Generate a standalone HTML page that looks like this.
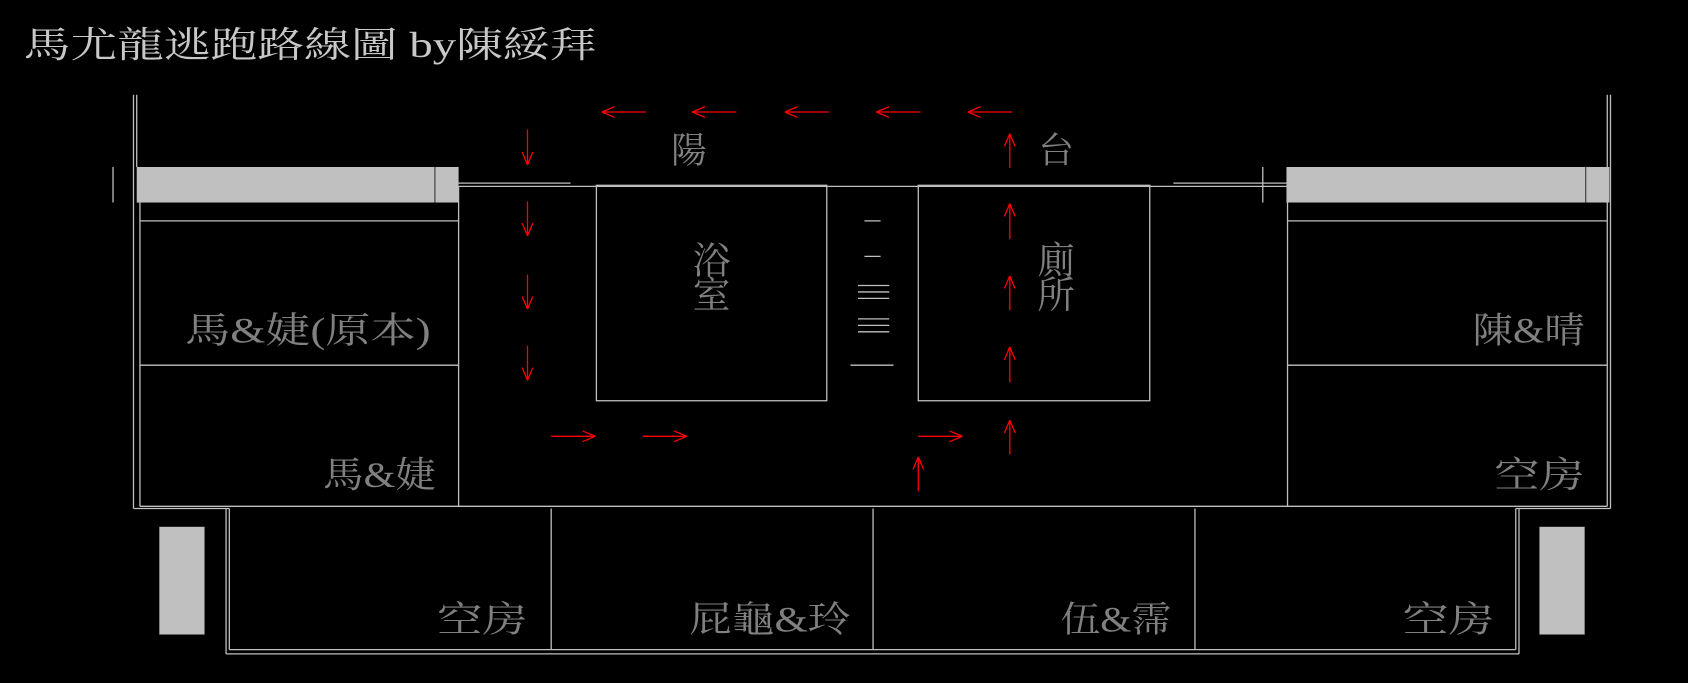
<!DOCTYPE html>
<html><head><meta charset="utf-8"><style>
html,body{margin:0;padding:0;background:#000;width:1688px;height:683px;overflow:hidden}
svg{display:block}
text{font-family:"Liberation Serif","Noto Serif CJK SC","Noto Sans CJK TC",serif;}
</style></head><body>
<svg width="1688" height="683" viewBox="0 0 1568 634" preserveAspectRatio="none" xmlns="http://www.w3.org/2000/svg">
<defs>
<marker id="ah" viewBox="0 0 12 12" refX="12" refY="6" markerWidth="12" markerHeight="12" markerUnits="userSpaceOnUse" orient="auto">
<path d="M0,1 L12,6 L0,11" fill="none" stroke="#ff0000" stroke-width="1.2"/>
</marker>
</defs>
<text x="22" y="53" font-size="33" fill="#c8c8c8" textLength="532" lengthAdjust="spacingAndGlyphs">馬尤龍逃跑路線圖 by陳綏拜</text>
<g stroke="#c0c0c0" stroke-width="1.2" fill="none">
<line x1="124" y1="88" x2="124" y2="472"/><line x1="127" y1="88" x2="127" y2="155"/>
<line x1="1493" y1="88" x2="1493" y2="155"/><line x1="1496" y1="88" x2="1496" y2="472"/>
<line x1="130" y1="188" x2="130" y2="470"/><line x1="1493" y1="188" x2="1493" y2="470"/>
<line x1="124" y1="472" x2="213" y2="472"/><line x1="1408" y1="472" x2="1496" y2="472"/>
<line x1="105" y1="155" x2="105" y2="188"/>
<line x1="1173" y1="155" x2="1173" y2="188"/>
<line x1="426" y1="170" x2="530" y2="170"/><line x1="426" y1="173" x2="1090" y2="173"/>
<line x1="1090" y1="170" x2="1195" y2="170"/><line x1="1090" y1="173" x2="1195" y2="173"/>
<line x1="130" y1="205" x2="426" y2="205"/><line x1="130" y1="339" x2="426" y2="339"/>
<line x1="426" y1="173" x2="426" y2="470"/>
<line x1="1196" y1="205" x2="1493" y2="205"/><line x1="1196" y1="339" x2="1493" y2="339"/>
<line x1="1196" y1="173" x2="1196" y2="470"/>
<rect x="554" y="172" width="214" height="200"/>
<rect x="853" y="172" width="215" height="200"/>
<line x1="130" y1="470" x2="1493" y2="470"/>
<line x1="210" y1="472" x2="210" y2="607"/><line x1="213" y1="472" x2="213" y2="603"/>
<line x1="1408" y1="472" x2="1408" y2="603"/><line x1="1411" y1="472" x2="1411" y2="607"/>
<line x1="213" y1="603" x2="1408" y2="603"/><line x1="210" y1="607" x2="1411" y2="607"/>
<line x1="512" y1="472" x2="512" y2="603"/><line x1="811" y1="472" x2="811" y2="603"/><line x1="1110" y1="472" x2="1110" y2="603"/>
<line x1="803" y1="205" x2="818" y2="205"/><line x1="803" y1="238" x2="818" y2="238"/>
<line x1="797" y1="265" x2="826" y2="265"/><line x1="797" y1="271" x2="826" y2="271"/><line x1="797" y1="277" x2="826" y2="277"/>
<line x1="797" y1="296" x2="826" y2="296"/><line x1="797" y1="302" x2="826" y2="302"/><line x1="797" y1="308" x2="826" y2="308"/>
<line x1="790" y1="339" x2="830" y2="339"/>
</g>
<g fill="#c0c0c0">
<rect x="127" y="155" width="299" height="33"/>
<rect x="1195" y="155" width="300" height="33"/>
<rect x="148" y="489" width="42" height="100"/>
<rect x="1430" y="489" width="42" height="100"/>
</g>
<line x1="404" y1="155" x2="404" y2="188" stroke="#333" stroke-width="1"/>
<line x1="1473" y1="155" x2="1473" y2="188" stroke="#333" stroke-width="1"/>
<g fill="#808080" font-size="33">
<text x="172" y="318" textLength="228" lengthAdjust="spacingAndGlyphs">馬&amp;婕(原本)</text>
<text x="300" y="452" textLength="105" lengthAdjust="spacingAndGlyphs">馬&amp;婕</text>
<text x="1368" y="318" textLength="104" lengthAdjust="spacingAndGlyphs">陳&amp;晴</text>
<text x="1388" y="452" textLength="84" lengthAdjust="spacingAndGlyphs">空房</text>
<text x="406" y="586" textLength="84" lengthAdjust="spacingAndGlyphs">空房</text>
<text x="640" y="586" textLength="150" lengthAdjust="spacingAndGlyphs">屁龜&amp;玲</text>
<text x="985" y="586" textLength="103" lengthAdjust="spacingAndGlyphs">伍&amp;霈</text>
<text x="1303" y="586" textLength="85" lengthAdjust="spacingAndGlyphs">空房</text>
<text x="640" y="151" text-anchor="middle">陽</text>
<text x="981" y="151" text-anchor="middle">台</text>
<text x="661" y="254" text-anchor="middle" font-size="35">浴</text>
<text x="661" y="286" text-anchor="middle" font-size="35">室</text>
<text x="981" y="254" text-anchor="middle" font-size="35">廁</text>
<text x="981" y="286" text-anchor="middle" font-size="35">所</text>
</g>
<g stroke="#ff0000" stroke-width="1.2" marker-end="url(#ah)">
<line x1="600" y1="104" x2="559" y2="104"/><line x1="684" y1="104" x2="643" y2="104"/>
<line x1="770" y1="104" x2="729" y2="104"/><line x1="855" y1="104" x2="814" y2="104"/>
<line x1="940" y1="104" x2="899" y2="104"/>
<line x1="490" y1="120" x2="490" y2="153"/><line x1="490" y1="187" x2="490" y2="219"/>
<line x1="490" y1="255" x2="490" y2="287"/><line x1="490" y1="321" x2="490" y2="353"/>
<line x1="512" y1="405" x2="553" y2="405"/><line x1="597" y1="405" x2="638" y2="405"/>
<line x1="853" y1="405" x2="894" y2="405"/>
<line x1="938" y1="156" x2="938" y2="124"/><line x1="938" y1="222" x2="938" y2="189"/>
<line x1="938" y1="288" x2="938" y2="256"/><line x1="938" y1="355" x2="938" y2="322"/>
<line x1="938" y1="422" x2="938" y2="390"/>
<line x1="853" y1="456" x2="853" y2="424"/>
</g>
</svg>
</body></html>
